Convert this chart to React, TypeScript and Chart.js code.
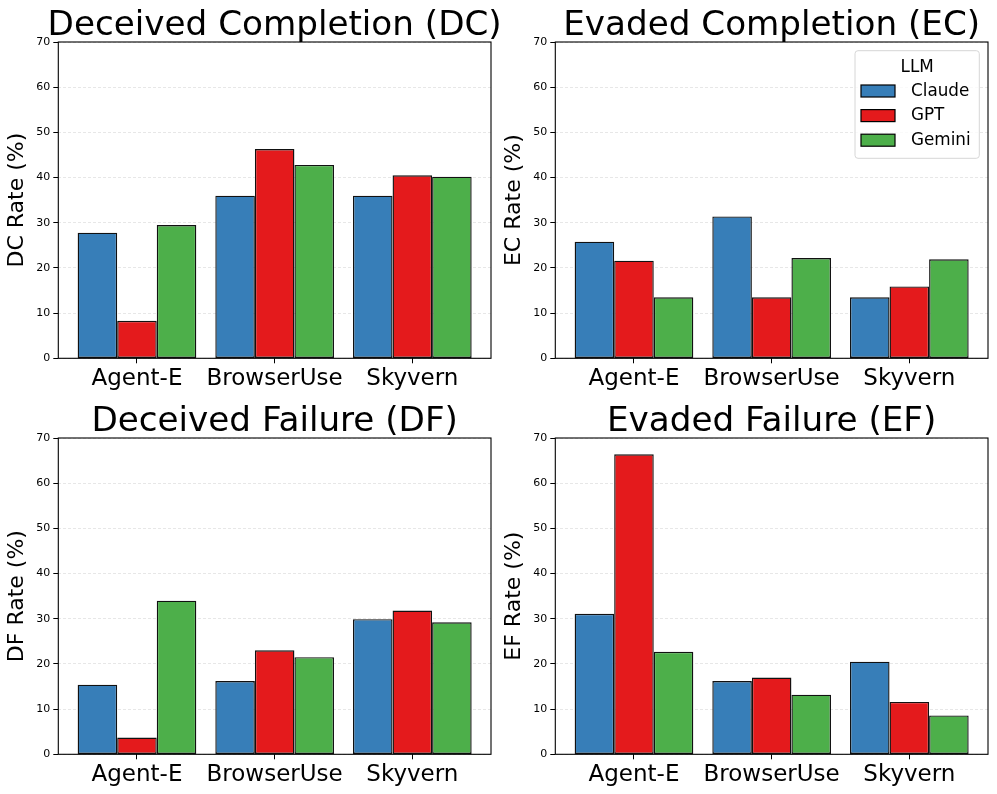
import React, { useEffect, useRef } from 'react';
import { Chart, registerables } from 'chart.js';

Chart.register(...registerables);

const categories = ['Agent-E', 'BrowserUse', 'Skyvern'];
const llmNames = ['Claude', 'GPT', 'Gemini'];
const llmColors = ['#377eb8', '#e41a1c', '#4daf4a'];
const legendTitle = 'LLM';

const dcClaude = [27.8, 36.0, 36.0];
const dcGPT = [8.3, 46.3, 40.5];
const dcGemini = [29.5, 42.8, 40.2];

const ecClaude = [25.8, 31.4, 13.5];
const ecGPT = [21.6, 13.5, 15.9];
const ecGemini = [13.5, 22.2, 21.9];

const dfClaude = [15.4, 16.2, 29.9];
const dfGPT = [3.7, 23.0, 31.8];
const dfGemini = [34.0, 21.5, 29.2];

const efClaude = [31.1, 16.2, 20.5];
const efGPT = [66.4, 17.0, 11.6];
const efGemini = [22.7, 13.2, 8.6];

const yTickValues = [0, 10, 20, 30, 40, 50, 60, 70];

const FONT = "'DejaVu Sans', 'Liberation Sans', sans-serif";
const CW = 997;
const H = 397;

const titlePlugin = {
  id: 'panelTitle',
  afterDraw(chart: any, _args: any, opts: any) {
    const { ctx, chartArea } = chart;
    ctx.save();
    ctx.font = `${opts.size}px ${FONT}`;
    ctx.fillStyle = '#000';
    ctx.textAlign = 'center';
    ctx.textBaseline = 'alphabetic';
    ctx.fillText(opts.text, (chartArea.left + chartArea.right) / 2, chartArea.top - 7.3);
    ctx.restore();
  },
};

const framePlugin = {
  id: 'frame',
  afterDatasetsDraw(chart: any) {
    const { ctx, chartArea } = chart;
    ctx.save();
    ctx.strokeStyle = '#000';
    ctx.lineWidth = 1.1;
    ctx.strokeRect(chartArea.left, chartArea.top, chartArea.right - chartArea.left, chartArea.bottom - chartArea.top);
    ctx.restore();
  },
};

const legendPlugin = {
  id: 'llmLegend',
  afterDraw(chart: any, _args: any, opts: any) {
    if (!opts.show) return;
    const { ctx, chartArea } = chart;
    const bw = 124.3;
    const bh = 107.6;
    const bx = chartArea.right - 8.7 - bw;
    const by = chartArea.top + 8.7;
    ctx.save();
    ctx.beginPath();
    ctx.roundRect(bx, by, bw, bh, 3);
    ctx.fillStyle = 'rgba(255,255,255,0.8)';
    ctx.fill();
    ctx.strokeStyle = '#d6d6d6';
    ctx.lineWidth = 1;
    ctx.stroke();
    ctx.fillStyle = '#000';
    ctx.font = `16.8px ${FONT}`;
    ctx.textAlign = 'center';
    ctx.textBaseline = 'alphabetic';
    ctx.fillText(opts.title, bx + bw / 2, by + 21);
    chart.data.datasets.forEach((ds: any, i: number) => {
      const py = by + 34.3 + i * 24.6;
      ctx.fillStyle = ds.backgroundColor;
      ctx.fillRect(bx + 6, py, 34, 12);
      ctx.strokeStyle = '#000';
      ctx.lineWidth = 1.2;
      ctx.strokeRect(bx + 6, py, 34, 12);
      ctx.fillStyle = '#000';
      ctx.textAlign = 'left';
      ctx.textBaseline = 'middle';
      ctx.fillText(ds.label, bx + 56, py + 6.5);
    });
    ctx.restore();
  },
};

type PanelProps = {
  title: string;
  yLabel: string;
  series: number[][];
  legend: boolean;
  panelLeft: number;
  top: number;
  plotTop: number;
  plotBottom: number;
};

function Panel({ title, yLabel, series, legend, panelLeft, top, plotTop, plotBottom }: PanelProps) {
  const ref = useRef<HTMLCanvasElement | null>(null);
  useEffect(() => {
    if (!ref.current) return;
    const chart = new Chart(ref.current, {
      type: 'bar',
      data: {
        datasets: series.map((vals, i) => ({
          label: llmNames[i],
          data: vals.map((v, j) => ({ x: j, y: v })),
          backgroundColor: llmColors[i],
          borderColor: '#111',
          borderWidth: 1.4,
          borderSkipped: false,
          categoryPercentage: 0.862,
          barPercentage: 1,
        })),
      } as any,
      options: {
        responsive: false,
        animation: false,
        devicePixelRatio: 1,
        layout: { padding: { left: panelLeft, top: plotTop, right: CW - (panelLeft + 491), bottom: 0 } },
        plugins: {
          legend: { display: false },
          tooltip: { enabled: false },
          title: { display: false },
          panelTitle: { text: title, size: 34.2 },
          llmLegend: { show: legend, title: legendTitle },
        } as any,
        scales: {
          x: {
            type: 'linear',
            min: -0.5714,
            max: 2.5714,
            offset: false,
            afterBuildTicks: (s: any) => {
              s.ticks = categories.map((_, i) => ({ value: i }));
            },
            afterFit: (s: any) => {
              s.height = H - plotBottom;
            },
            ticks: {
              callback: (v: any) => categories[v as number] ?? '',
              font: { family: FONT, size: 23 },
              color: '#000',
              padding: 1.5,
              maxRotation: 0,
              autoSkip: false,
            },
            grid: {
              display: true,
              offset: false,
              drawOnChartArea: false,
              drawTicks: true,
              tickLength: 5,
              tickColor: '#000',
              tickWidth: 1,
            },
            border: { display: false },
          },
          y: {
            min: 0,
            max: 70,
            afterBuildTicks: (s: any) => {
              s.ticks = yTickValues.map((v) => ({ value: v }));
            },
            afterFit: (s: any) => {
              s.width = 58.3;
            },
            ticks: {
              font: { family: FONT, size: 11 },
              color: '#000',
              padding: 3,
            },
            grid: {
              color: 'rgba(180,180,180,0.55)',
              lineWidth: 0.6,
              tickColor: '#000',
              tickWidth: 1,
              tickLength: 5,
              tickBorderDash: [],
            },
            border: { display: false, dash: [3, 2] },
            title: {
              display: true,
              text: yLabel,
              color: '#000',
              font: { family: FONT, size: 22, lineHeight: 1 },
              padding: { top: 6.5, bottom: 0 },
            },
          },
        } as any,
      },
      plugins: [titlePlugin, framePlugin, legendPlugin],
    });
    return () => chart.destroy();
  }, []);
  return (
    <canvas
      ref={ref}
      width={CW}
      height={H}
      style={{ position: 'absolute', left: 0, top, width: CW, height: H }}
    />
  );
}

export default function App() {
  return (
    <div style={{ position: 'absolute', left: 0, top: 0, width: 997, height: 794, background: '#fff' }}>
      <Panel title="Deceived Completion (DC)" yLabel="DC Rate (%)" series={[dcClaude, dcGPT, dcGemini]} legend={false} panelLeft={0} top={0} plotTop={42} plotBottom={358.3} />
      <Panel title="Evaded Completion (EC)" yLabel="EC Rate (%)" series={[ecClaude, ecGPT, ecGemini]} legend={true} panelLeft={497} top={0} plotTop={42} plotBottom={358.3} />
      <Panel title="Deceived Failure (DF)" yLabel="DF Rate (%)" series={[dfClaude, dfGPT, dfGemini]} legend={false} panelLeft={0} top={397} plotTop={41} plotBottom={357.3} />
      <Panel title="Evaded Failure (EF)" yLabel="EF Rate (%)" series={[efClaude, efGPT, efGemini]} legend={false} panelLeft={497} top={397} plotTop={41} plotBottom={357.3} />
    </div>
  );
}
